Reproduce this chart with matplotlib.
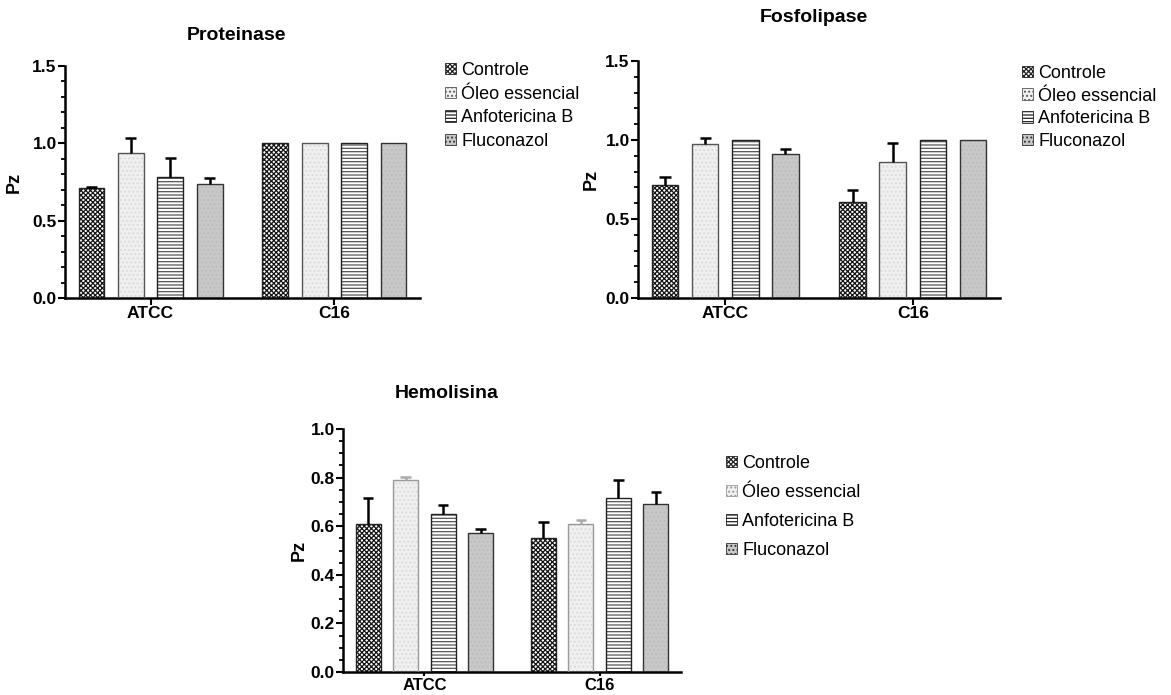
import numpy as np
import matplotlib
matplotlib.use('Agg')
import matplotlib.pyplot as plt
from matplotlib.ticker import MultipleLocator, FormatStrFormatter

plt.rcParams['font.family'] = ['Liberation Sans', 'DejaVu Sans']
plt.rcParams['hatch.linewidth'] = 0.9

groups = ['ATCC', 'C16']
series = ['Controle', 'Óleo essencial', 'Anfotericina B', 'Fluconazol']

# rows = series, cols = groups (ATCC, C16)
prot_mean = [[0.71, 1.0], [0.935, 1.0], [0.785, 1.0], [0.735, 1.0]]
prot_err = [[0.01, 0.0], [0.10, 0.0], [0.12, 0.0], [0.04, 0.0]]

fosf_mean = [[0.713, 0.606], [0.972, 0.858], [1.0, 1.0], [0.909, 1.0]]
fosf_err = [[0.053, 0.08], [0.042, 0.122], [0.0, 0.0], [0.034, 0.0]]

hemo_mean = [[0.611, 0.552], [0.790, 0.611], [0.649, 0.715], [0.570, 0.692]]
hemo_err = [[0.103, 0.064], [0.013, 0.016], [0.039, 0.075], [0.019, 0.049]]

# face, hatch, hatch colour, edge
styles = [
    ('white', 'xxxxxxx', '#151515', '#222222'),
    ('#f0f0f0', '....', '#dadada', '#555555'),
    ('white', '-----', '#555555', '#222222'),
    ('#c8c8c8', '....', '#bcbcbc', '#333333'),
]

fig = plt.figure(figsize=(11.71, 6.95), dpi=100)


def panel(rect, means, errs, ymax, major, minor, title, title_xy, legend_xy, lspace,
          ylab_x, err_grey=False, xlab_size=12.5, xtick_len=5):
    ax = fig.add_axes(rect)
    x = np.arange(len(groups))
    step, w, cap = 0.214, 0.141, 0.03
    for i, name in enumerate(series):
        face, hatch, hcol, edge = styles[i]
        xs = x + (i - 1.5) * step
        plt.rcParams['hatch.color'] = hcol
        ax.bar(xs, means[i], w, color=face, hatch=hatch, edgecolor=hcol, linewidth=0,
               zorder=2)
        ecol = edge
        if err_grey and i == 1:
            ecol = '#999999'
        ax.bar(xs, means[i], w, fill=False, edgecolor=ecol, linewidth=1.0, zorder=3)
        # legend handle
        ax.bar([0], [0], 0, color=face, hatch=hatch, edgecolor=ecol, linewidth=0.6,
               label=name)
        m = np.array(means[i])
        e = np.array(errs[i])
        keep = e > 0
        if keep.any():
            ecl = '#aaaaaa' if (err_grey and i == 1) else 'black'
            ax.vlines(xs[keep], m[keep], m[keep] + e[keep], color=ecl, lw=1.8, zorder=4)
            ax.hlines(m[keep] + e[keep], xs[keep] - cap, xs[keep] + cap, color=ecl,
                      lw=1.8, zorder=4)
    ax.set_xlim(-0.465, 1.465)
    ax.set_ylim(0, ymax)
    ax.set_xticks(x)
    ax.set_xticklabels(groups, fontsize=xlab_size, fontweight='bold')
    ax.yaxis.set_major_locator(MultipleLocator(major))
    ax.yaxis.set_minor_locator(MultipleLocator(minor))
    ax.yaxis.set_major_formatter(FormatStrFormatter('%.1f'))
    for lab in ax.get_yticklabels():
        lab.set_fontweight('bold')
        lab.set_fontsize(12.5)
    ax.tick_params(axis='y', which='major', width=1.5, length=5, pad=1)
    ax.tick_params(axis='x', which='major', width=1.5, length=xtick_len, pad=1)
    ax.tick_params(axis='y', which='minor', width=1.3, length=3)
    ax.spines['top'].set_visible(False)
    ax.spines['right'].set_visible(False)
    ax.spines['left'].set_linewidth(1.8)
    ax.spines['bottom'].set_linewidth(1.8)
    ax.set_ylabel('Pz', fontsize=13, fontweight='bold')
    ax.yaxis.set_label_coords(ylab_x, 0.5)
    fig.text(title_xy[0] / 1171, 1 - title_xy[1] / 695, title, ha='center', va='center',
             fontsize=14, fontweight='bold')
    ax.legend(loc='upper left', bbox_to_anchor=(legend_xy[0] / 1171, 1 - legend_xy[1] / 695),
              bbox_transform=fig.transFigure, frameon=False, fontsize=13,
              handlelength=0.6, handleheight=0.6, handletextpad=0.3,
              labelspacing=lspace, borderaxespad=0, borderpad=0)
    return ax


panel([65 / 1171, 1 - 298 / 695, 355 / 1171, 232 / 695], prot_mean, prot_err, 1.5, 0.5, 0.1,
      'Proteinase', (237, 35), (445, 62), 0.37, -0.12)
panel([638 / 1171, 1 - 298 / 695, 362 / 1171, 237 / 695], fosf_mean, fosf_err, 1.5, 0.5, 0.1,
      'Fosfolipase', (814, 17), (1022, 65), 0.31, -0.105)
panel([343 / 1171, 1 - 672 / 695, 338 / 1171, 243 / 695], hemo_mean, hemo_err, 1.0, 0.2, 0.05,
      'Hemolisina', (447, 393), (726, 455), 0.66, -0.104, err_grey=True,
      xlab_size=12, xtick_len=3)

fig.savefig('out.png', dpi=100)
